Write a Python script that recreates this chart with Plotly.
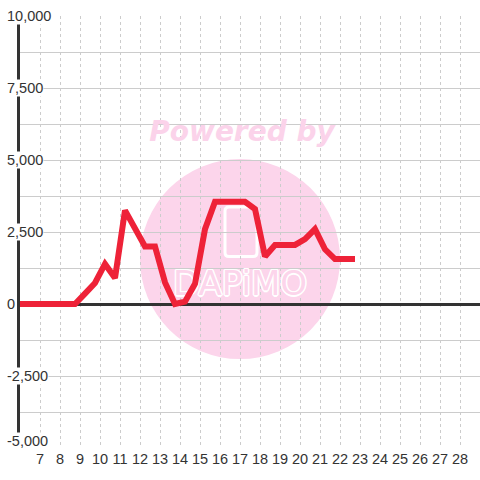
import plotly.graph_objects as go

# ---- data ----
hours = [6.0, 8.75, 9.25, 9.75, 10.25, 10.75, 11.25, 11.75, 12.25, 12.75,
         13.25, 13.75, 14.25, 14.75, 15.25, 15.75, 16.25, 16.75, 17.25, 17.75,
         18.25, 18.75, 19.25, 19.75, 20.25, 20.75, 21.25, 21.75, 22.25, 22.75]
values = [0, 0, 360, 730, 1390, 900, 3250, 2600, 2000, 2000,
          750, 0, 80, 700, 2600, 3550, 3550, 3550, 3550, 3300,
          1650, 2050, 2050, 2050, 2250, 2600, 1900, 1560, 1560, 1560]
x_ticks = list(range(7, 29))
y_label_vals = [10000, 7500, 5000, 2500, 0, -2500, -5000]
y_label_text = ["10,000", "7,500", "5,000", "2,500", "0", "-2,500", "-5,000"]

PINK = "#fcd5eb"
RED = "#ee2238"
DARK = "#333333"
GRID = "#cccccc"

fig = go.Figure()

# watermark text (drawn under the data line)
fig.add_trace(go.Scatter(
    x=[17.1], y=[5900], mode="text", text=["Powered by"],
    textfont=dict(family="DejaVu Sans", size=28, color="#fbd3ea",
                  weight="bold", style="italic"),
    hoverinfo="skip", showlegend=False, cliponaxis=False))
fig.add_trace(go.Scatter(
    x=[17.0], y=[600], mode="text", text=["DAPiMO"],
    textfont=dict(family="DejaVu Sans", size=34, color=PINK, weight="normal",
                  shadow="1.5px 0 0 white, -1.5px 0 0 white, 0 1.5px 0 white, 0 -1.5px 0 white, 1px 1px 0 white, -1px -1px 0 white, 1px -1px 0 white, -1px 1px 0 white"),
    hoverinfo="skip", showlegend=False, cliponaxis=False))

fig.add_trace(go.Scatter(
    x=hours, y=values, mode="lines",
    line=dict(color=RED, width=6),
    hoverinfo="skip", showlegend=False, cliponaxis=False))

# watermark circle + logo outline
fig.add_shape(type="circle", xref="x", yref="y", x0=12, x1=22, y0=-1912, y1=5033,
              fillcolor=PINK, line=dict(width=0), layer="below")
rx, ry = 0.2, 140
x0, x1, y0, y1 = 16.25, 17.85, 1650, 3370
path = (f"M {x0+rx},{y0} L {x1-rx},{y0} Q {x1},{y0} {x1},{y0+ry} "
        f"L {x1},{y1-ry} Q {x1},{y1} {x1-rx},{y1} L {x0+rx},{y1} "
        f"Q {x0},{y1} {x0},{y1-ry} L {x0},{y0+ry} Q {x0},{y0} {x0+rx},{y0} Z")
fig.add_shape(type="path", xref="x", yref="y", path=path,
              line=dict(color="white", width=3), layer="below")

# y labels with white background covering axis
for v, t in zip(y_label_vals, y_label_text):
    fig.add_annotation(x=-14 / 460, xref="paper", y=v, yref="y", text=t,
                       showarrow=False, xanchor="left", yanchor="middle",
                       yshift=7 if v == -5000 else 0,
                       bgcolor="white", borderpad=0,
                       font=dict(family="Liberation Sans", size=14.5, color=DARK))

fig.update_layout(
    width=480, height=480,
    margin=dict(l=20, r=0, t=16, b=32, autoexpand=False),
    paper_bgcolor="white", plot_bgcolor="rgba(0,0,0,0)",
    showlegend=False,
    xaxis=dict(range=[6, 29], tickvals=x_ticks, ticktext=[str(v) for v in x_ticks],
               showgrid=True, gridcolor=GRID, griddash="3px,3px", gridwidth=1,
               zeroline=False, showline=False, ticks="",
               tickfont=dict(family="Liberation Sans", size=14.5, color=DARK)),
    yaxis=dict(range=[-5000, 10000], tick0=-5000, dtick=1250,
               showticklabels=False, showgrid=True, gridcolor=GRID, gridwidth=1,
               zeroline=True, zerolinecolor=DARK, zerolinewidth=3,
               showline=True, linecolor=DARK, linewidth=3, ticks=""),
)

fig.write_html("out.html", config={"displayModeBar": False},
               post_script="document.body.style.margin='0';document.body.style.padding='0';")
